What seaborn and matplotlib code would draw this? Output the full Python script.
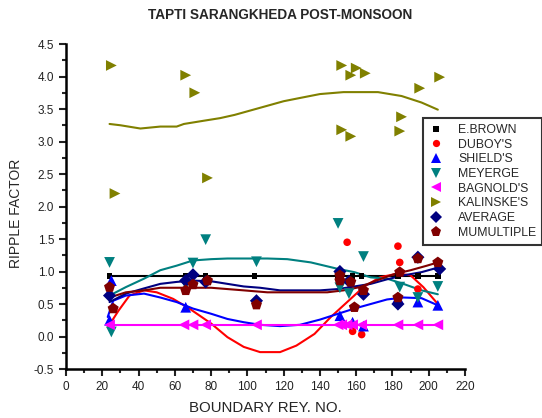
import matplotlib
matplotlib.use("Agg")
import matplotlib.pyplot as plt
from matplotlib.lines import Line2D
from matplotlib.ticker import MultipleLocator
import seaborn as sns

# --- measured points (boundary rey. no., ripple factor) ---
brown_x = [24, 66, 77, 104, 150, 158, 163, 183, 194, 205]
brown_y = [0.93] * 10

duboy_x = [155, 158, 163, 183, 184, 194]
duboy_y = [1.45, 0.08, 0.03, 1.39, 1.14, 0.73]

shield_x = [25, 24, 66, 151, 158, 164, 183, 194, 205]
shield_y = [0.86, 0.25, 0.45, 0.32, 0.22, 0.16, 0.6, 0.53, 0.48]

meyer_x = [24, 25, 66, 70, 77, 105, 150, 151, 156, 164, 184, 194, 205]
meyer_y = [1.14, 0.07, 0.8, 1.13, 1.49, 1.15, 1.74, 0.75, 0.66, 1.23, 0.76, 0.6, 0.77]

bagnold_x = [24, 65, 70, 77, 105, 150, 152, 155, 158, 163, 183, 194, 205]
bagnold_y = [0.18] * 13

kalin_x = [25, 27, 66, 71, 78, 152, 152, 157, 157, 160, 165, 184, 185, 195, 206]
kalin_y = [4.17, 2.2, 4.02, 3.75, 2.44, 4.17, 3.18, 4.02, 3.08, 4.13, 4.05, 3.16, 3.38, 3.82, 3.99]

avg_x = [24, 66, 70, 77, 105, 151, 156, 164, 183, 194, 206]
avg_y = [0.63, 0.86, 0.95, 0.84, 0.55, 1.0, 0.85, 0.65, 0.5, 1.22, 1.04]

mult_x = [24, 26, 66, 70, 78, 105, 151, 151, 157, 159, 164, 184, 183, 194, 205]
mult_y = [0.76, 0.43, 0.71, 0.8, 0.86, 0.49, 0.94, 0.86, 0.84, 0.45, 0.71, 0.99, 0.6, 1.2, 1.14]

# --- smoothed curves ---
brown_cx = [24, 205]
brown_cy = [0.93, 0.93]

duboy_cx = [23, 29, 35, 43, 50, 59, 68, 80, 89, 98, 107, 118, 127, 137, 146, 155, 164, 173, 183, 190, 197, 205]
duboy_cy = [0.14, 0.4, 0.63, 0.71, 0.68, 0.58, 0.43, 0.2, -0.01, -0.16, -0.24, -0.24, -0.14, 0.04, 0.3, 0.53, 0.76, 0.91, 0.97, 0.94, 0.76, 0.5]

shield_cx = [23, 26, 33, 43, 52, 61, 70, 80, 89, 98, 107, 118, 129, 140, 150, 159, 168, 177, 186, 196, 205]
shield_cy = [0.3, 0.55, 0.63, 0.66, 0.6, 0.53, 0.43, 0.35, 0.27, 0.22, 0.18, 0.16, 0.18, 0.26, 0.35, 0.43, 0.5, 0.57, 0.6, 0.59, 0.48]

meyer_cx = [24, 33, 43, 52, 61, 70, 80, 89, 98, 111, 122, 135, 150, 159, 168, 177, 186, 196, 205]
meyer_cy = [0.63, 0.76, 0.89, 1.02, 1.09, 1.17, 1.19, 1.2, 1.2, 1.2, 1.19, 1.14, 1.04, 0.99, 0.91, 0.89, 0.81, 0.71, 0.65]

bagnold_cx = [24, 205]
bagnold_cy = [0.18, 0.18]

kalin_cx = [24, 30, 41, 52, 61, 65, 76, 85, 93, 102, 111, 120, 129, 140, 153, 172, 185, 196, 205]
kalin_cy = [3.27, 3.25, 3.2, 3.23, 3.23, 3.27, 3.32, 3.36, 3.41, 3.48, 3.55, 3.62, 3.67, 3.73, 3.76, 3.76, 3.7, 3.6, 3.49]

avg_cx = [24, 33, 43, 52, 61, 70, 80, 89, 98, 107, 118, 129, 140, 150, 159, 168, 177, 186, 196, 205]
avg_cy = [0.53, 0.66, 0.74, 0.81, 0.84, 0.86, 0.85, 0.81, 0.77, 0.75, 0.71, 0.71, 0.71, 0.73, 0.77, 0.81, 0.88, 0.94, 0.99, 1.06]

mult_cx = [24, 33, 43, 52, 61, 70, 80, 89, 98, 111, 126, 144, 153, 162, 171, 181, 190, 199, 205]
mult_cy = [0.6, 0.68, 0.71, 0.75, 0.75, 0.75, 0.75, 0.73, 0.71, 0.68, 0.68, 0.68, 0.71, 0.76, 0.86, 0.96, 1.02, 1.09, 1.14]

sns.set_style("ticks")
plt.rcParams["font.family"] = ["Liberation Sans", "DejaVu Sans"]

fig = plt.figure(figsize=(5.42, 4.18), dpi=100)
ax = fig.add_axes([0.1218, 0.1172, 0.7362, 0.7775])

series = [
    ("E.BROWN", brown_x, brown_y, brown_cx, brown_cy, "black", "s", 16),
    ("DUBOY'S", duboy_x, duboy_y, duboy_cx, duboy_cy, "#FF0000", "o", 30),
    ("SHIELD'S", shield_x, shield_y, shield_cx, shield_cy, "#0000FF", "^", 60),
    ("MEYERGE", meyer_x, meyer_y, meyer_cx, meyer_cy, "#008080", "v", 60),
    ("BAGNOLD'S", bagnold_x, bagnold_y, bagnold_cx, bagnold_cy, "#FF00FF", "<", 60),
    ("KALINSKE'S", kalin_x, kalin_y, kalin_cx, kalin_cy, "#808000", ">", 60),
    ("AVERAGE", avg_x, avg_y, avg_cx, avg_cy, "#000080", "D", 45),
    ("MUMULTIPLE", mult_x, mult_y, mult_cx, mult_cy, "#800000", "p", 70),
]

handles = []
for name, px, py, cx, cy, color, marker, size in series:
    sns.lineplot(x=cx, y=cy, color=color, lw=1.5, estimator=None, sort=False, ax=ax)
    sns.scatterplot(x=px, y=py, color=color, marker=marker, s=size,
                    edgecolor="none", linewidth=0, ax=ax, zorder=3)
    handles.append(Line2D([], [], color=color, marker=marker, linestyle="none",
                          markersize=(size ** 0.5) * 0.95, markeredgewidth=0, label=name))

ax.set_xlim(0, 220)
ax.set_ylim(-0.5, 4.5)
ax.xaxis.set_major_locator(MultipleLocator(20))
ax.xaxis.set_minor_locator(MultipleLocator(10))
ax.yaxis.set_major_locator(MultipleLocator(0.5))
ax.yaxis.set_minor_locator(MultipleLocator(0.25))
ax.set_yticklabels([f"{v:.1f}" for v in ax.get_yticks()])
ax.tick_params(which="major", direction="out", length=5, width=1.5, labelsize=8.5, colors="#222222")
ax.tick_params(which="minor", direction="out", length=3, width=1.5)
for s in ["top", "right"]:
    ax.spines[s].set_visible(False)
for s in ["left", "bottom"]:
    ax.spines[s].set_linewidth(1.8)
    ax.spines[s].set_color("black")

ax.set_xlabel("BOUNDARY REY. NO.", fontsize=10.8, labelpad=6)
ax.set_ylabel("RIPPLE FACTOR", fontsize=10, labelpad=2)
ax.yaxis.set_label_coords(-0.108, 0.48)
fig.text(0.517, 0.965, "TAPTI SARANGKHEDA POST-MONSOON", ha="center", va="center",
         fontsize=9.8, fontweight="bold")

leg = fig.legend(handles=handles, loc="upper left", bbox_to_anchor=(0.78, 0.718),
                 frameon=True, fancybox=False, fontsize=8.8, handlelength=1.2,
                 handletextpad=1.2, labelspacing=0.22, borderpad=0.5, borderaxespad=0)
leg.get_frame().set_edgecolor("black")
leg.get_frame().set_linewidth(1.5)

fig.savefig("out.png", dpi=100)
